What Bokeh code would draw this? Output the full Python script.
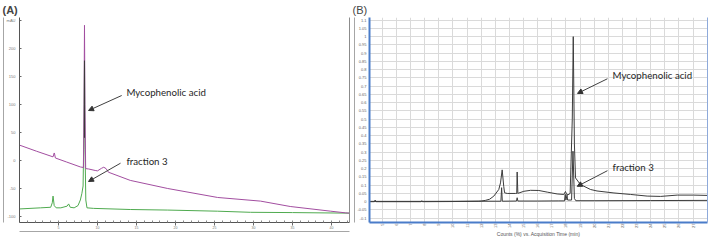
import math
from bokeh.plotting import figure
from bokeh.layouts import row
from bokeh.models import LinearAxis, FixedTicker, Range1d, Arrow, NormalHead, Label
from bokeh.embed import file_html
from bokeh.resources import INLINE

# ---------------- Panel A data (retention time, signal) ----------------
a_purple_t = [0.0, 2.2, 4.3, 4.45, 4.5, 4.6, 6.0, 7.8, 8.2, 8.27, 8.33, 8.39, 8.48,
              8.85, 9.7, 10.0, 10.5, 10.8, 11.1, 11.4, 14.2, 19.0, 25.4, 30.9, 34.7, 39.9, 41.8, 42.3]
a_purple_v = [28, 17, 7, 14, 12, 5, -2, -11, -12, 100, 242, 100, -14,
              -14.6, -17.3, -18, -13.5, -11.5, -14, -20.4, -35, -49.5, -65.5, -72, -81.6, -90, -93, -93.5]

a_green_t = [0.0, 2.7, 4.0, 4.2, 4.3, 4.45, 4.7, 5.3, 6.1, 6.3, 6.5, 7.0, 7.5, 7.8, 8.0,
             8.15, 8.25, 8.33, 8.4, 8.5, 8.65, 9.5, 14.2, 19.0, 25.4, 29.6, 35.0, 42.3]
a_green_v = [-86, -84, -83, -75, -63, -80, -84, -84, -81, -77, -83, -84, -80, -70, -58,
             -45, 50, 179, 20, -70, -84, -85, -87, -88, -90, -92, -92.5, -93.5]

a_overlap_t = [8.33, 8.33]
a_overlap_v = [41, 179]

a_xticks = [5, 10, 15, 20, 25, 30, 35, 40]
a_yticks = [-100, -50, 0, 50, 100, 150, 200, 250]
a_ytick_labels = ["-100", "-50", "0", "50", "100", "150", "200", "mAU"]

a_ann_text = ["Mycophenolic acid", "fraction 3"]
a_ann_text_x = [13.7, 13.7]
a_ann_text_y = [122, 0.5]
a_arrow_x0 = [13.1, 12.95]
a_arrow_y0 = [116.6, -4.3]
a_arrow_x1 = [8.85, 8.85]
a_arrow_y1 = [89.8, -37]

# ---------------- Panel B data (acquisition time, counts) ----------------
b_mpa_t = [4.1, 4.45, 4.5, 4.55, 6.0, 7.75, 7.8, 7.85, 10.0, 11.8, 12.0, 12.3, 12.6, 12.9,
           13.25, 13.37, 13.49, 13.6, 13.66, 13.85, 14.43, 14.52, 14.55, 14.6, 14.65, 15.02,
           15.5, 16.08, 16.68, 17.38, 17.85, 17.97, 18.05, 18.15, 18.3, 18.45, 18.52, 18.6,
           18.68, 19.03, 19.74, 20.2, 21.4, 22.57, 23.75, 24.7, 25.88, 27.03, 28.07]
b_mpa_v = [0.0, 0.0, 0.01, 0.0, 0.0, 0.0, 0.006, 0.0, 0.001, 0.003, 0.004, 0.008, 0.015, 0.034,
           0.074, 0.114, 0.193, 0.093, 0.054, 0.05, 0.05, 0.05, 0.18, 0.05, 0.052, 0.063,
           0.069, 0.068, 0.058, 0.047, 0.044, 0.062, 0.044, 0.042, 0.05, 0.5, 1.0, 0.35,
           0.144, 0.104, 0.074, 0.065, 0.053, 0.044, 0.034, 0.032, 0.04, 0.04, 0.038]

b_frac_t = [4.1, 8.0, 12.0, 13.4, 13.45, 13.5, 14.5, 14.55, 14.6, 16.0, 17.5, 17.9, 17.95,
            18.0, 18.08, 18.12, 18.4, 18.5, 18.6, 18.7, 20.0, 24.0, 28.07]
b_frac_v = [0.002, 0.002, 0.003, 0.003, 0.085, 0.003, 0.004, 0.024, 0.004, 0.004, 0.005, 0.005,
            0.045, 0.01, 0.04, 0.01, 0.01, 0.306, 0.02, 0.006, 0.006, 0.007, 0.008]

b_xticks = [5, 6, 7, 8, 9, 10, 11, 12, 13, 14, 15, 16, 17, 18, 19, 20, 21, 22, 23, 24, 25, 26, 27]
b_yticks = [-0.1, -0.05, 0.0, 0.05, 0.1, 0.15, 0.2, 0.25, 0.3, 0.35, 0.4, 0.45, 0.5, 0.55,
            0.6, 0.65, 0.7, 0.75, 0.8, 0.85, 0.9, 0.95, 1.0, 1.05, 1.1]
b_ytick_labels = ["-0.1", "-0.05", "0", "0.05", "0.1", "0.15", "0.2", "0.25", "0.3", "0.35",
                  "0.4", "0.45", "0.5", "0.55", "0.6", "0.65", "0.7", "0.75", "0.8", "0.85",
                  "0.9", "0.95", "1", "1.05", "1.1"]
b_xlabel = "Counts (%) vs. Acquisition Time (min)"

b_ann_text = ["Mycophenolic acid", "fraction 3"]
b_ann_text_x = [21.3, 21.3]
b_ann_text_y = [0.769, 0.211]
b_arrow_x0 = [20.94, 20.94]
b_arrow_y0 = [0.745, 0.188]
b_arrow_x1 = [18.82, 18.8]
b_arrow_y1 = [0.656, 0.093]

ANN_FONT = "Lato"
TICK_FONT = "Liberation Sans"


def frame_line(p, side, color, width=1):
    ax = LinearAxis(ticker=FixedTicker(ticks=[]), axis_line_color=color, axis_line_width=width,
                    major_tick_line_color=None, minor_tick_line_color=None,
                    major_tick_in=0, major_tick_out=0, minor_tick_in=0, minor_tick_out=0,
                    major_label_standoff=0, axis_label_standoff=0,
                    major_label_text_font_size="0px", axis_label=None)
    p.add_layout(ax, side)


def annotate(p, texts, tx, ty, x0, y0, x1, y1):
    for i in range(len(texts)):
        p.add_layout(Label(x=tx[i], y=ty[i], text=texts[i], text_font=ANN_FONT,
                           text_font_size="9.7px", text_baseline="middle",
                           text_color="#262626"))
        p.add_layout(Arrow(end=NormalHead(size=5, line_color="#333333", fill_color="#333333",
                                          line_width=1),
                           x_start=x0[i], y_start=y0[i], x_end=x1[i], y_end=y1[i],
                           line_color="#404040", line_width=1))


# ---------------- Panel A ----------------
pA = figure(width=352, height=243, output_backend="svg", toolbar_location=None,
            x_range=Range1d(0, 42.3), y_range=Range1d(-110.2, 255.9),
            min_border_left=19, min_border_right=3, min_border_top=17, min_border_bottom=21,
            title="(A)")
pA.border_fill_color = "white"
pA.title.text_font = "Liberation Sans"
pA.title.text_font_size = "11px"
pA.title.text_font_style = "bold"
pA.title.align = "left"
pA.title.offset = -17
pA.title.standoff = 3
pA.outline_line_color = None
pA.grid.visible = False
pA.background_fill_color = "white"

xa = pA.xaxis[0]
xa.ticker = FixedTicker(ticks=a_xticks, minor_ticks=[i for i in range(0, 43)])
xa.axis_line_color = "#555555"
xa.major_tick_line_color = "#666666"
xa.minor_tick_line_color = "#888888"
xa.major_tick_in = 0
xa.major_tick_out = 3
xa.minor_tick_in = 2
xa.minor_tick_out = 0
xa.major_label_text_font_size = "3.5px"
xa.major_label_text_color = "#777777"
xa.major_label_standoff = 0
xa.major_label_text_font = TICK_FONT

ya = pA.yaxis[0]
ya.ticker = FixedTicker(ticks=a_yticks)
ya.major_label_overrides = dict(zip(a_yticks, a_ytick_labels))
ya.axis_line_color = "#555555"
ya.major_tick_line_color = "#666666"
ya.minor_tick_line_color = None
ya.major_tick_in = 2
ya.major_tick_out = 0
ya.major_label_text_font_size = "4px"
ya.major_label_text_color = "#777777"
ya.major_label_standoff = 4
ya.major_label_text_font = TICK_FONT

frame_line(pA, "left", "#a6a6a6")
frame_line(pA, "below", "#a6a6a6")
frame_line(pA, "right", "#8c8c8c")

pA.line(a_green_t, a_green_v, line_color="#4faa4f", line_width=1)
pA.line(a_purple_t, a_purple_v, line_color="#a24ea0", line_width=1)
pA.line(a_overlap_t, a_overlap_v, line_color="#3a3a3a", line_width=1)

annotate(pA, a_ann_text, a_ann_text_x, a_ann_text_y, a_arrow_x0, a_arrow_y0, a_arrow_x1, a_arrow_y1)

# ---------------- Panel B ----------------
pB = figure(width=356, height=243, output_backend="svg", toolbar_location=None,
            x_range=Range1d(4.10, 28.02), y_range=Range1d(-0.126, 1.116),
            min_border_left=17, min_border_right=1, min_border_top=17, min_border_bottom=16,
            title="(B)")
pB.border_fill_color = "white"
pB.title.text_font = "Liberation Sans"
pB.title.text_font_size = "11px"
pB.title.text_font_style = "normal"
pB.title.align = "left"
pB.title.offset = -17
pB.title.standoff = 3
pB.outline_line_color = None
pB.background_fill_color = "white"

xb = pB.xaxis[0]
xb.ticker = FixedTicker(ticks=b_xticks)
xb.axis_line_color = "#4a7cc9"
xb.axis_line_width = 2
xb.major_tick_line_color = None
xb.minor_tick_line_color = None
xb.major_tick_in = 0
xb.major_tick_out = 0
xb.minor_tick_in = 0
xb.minor_tick_out = 0
xb.major_label_orientation = math.pi / 2
xb.major_label_text_font_size = "4px"
xb.major_label_text_color = "#666666"
xb.major_label_standoff = 1
xb.major_label_text_font = TICK_FONT
xb.axis_label = b_xlabel
xb.axis_label_text_font = TICK_FONT
xb.axis_label_text_font_size = "5px"
xb.axis_label_text_font_style = "normal"
xb.axis_label_text_color = "#555555"
xb.axis_label_standoff = 0

yb = pB.yaxis[0]
yb.ticker = FixedTicker(ticks=b_yticks)
yb.major_label_overrides = dict(zip(b_yticks, b_ytick_labels))
yb.axis_line_color = "#4a7cc9"
yb.axis_line_width = 2
yb.major_tick_line_color = None
yb.minor_tick_line_color = None
yb.major_tick_in = 0
yb.major_tick_out = 0
yb.minor_tick_in = 0
yb.minor_tick_out = 0
yb.major_label_text_font_size = "4px"
yb.major_label_text_color = "#666666"
yb.major_label_standoff = 3
yb.major_label_text_font = TICK_FONT

pB.xgrid.ticker = FixedTicker(ticks=b_xticks)
pB.ygrid.ticker = FixedTicker(ticks=b_yticks)
pB.grid.grid_line_color = "#dadada"
pB.grid.grid_line_width = 1

frame_line(pB, "left", "#a6a6a6")
frame_line(pB, "right", "#8eaadb")

pB.line(b_frac_t, b_frac_v, line_color="#3c3c3c", line_width=1)
pB.line(b_mpa_t, b_mpa_v, line_color="#3c3c3c", line_width=1)

annotate(pB, b_ann_text, b_ann_text_x, b_ann_text_y, b_arrow_x0, b_arrow_y0, b_arrow_x1, b_arrow_y1)

layout = row(pA, pB)
open("out.html", "w").write(file_html(layout, INLINE))
